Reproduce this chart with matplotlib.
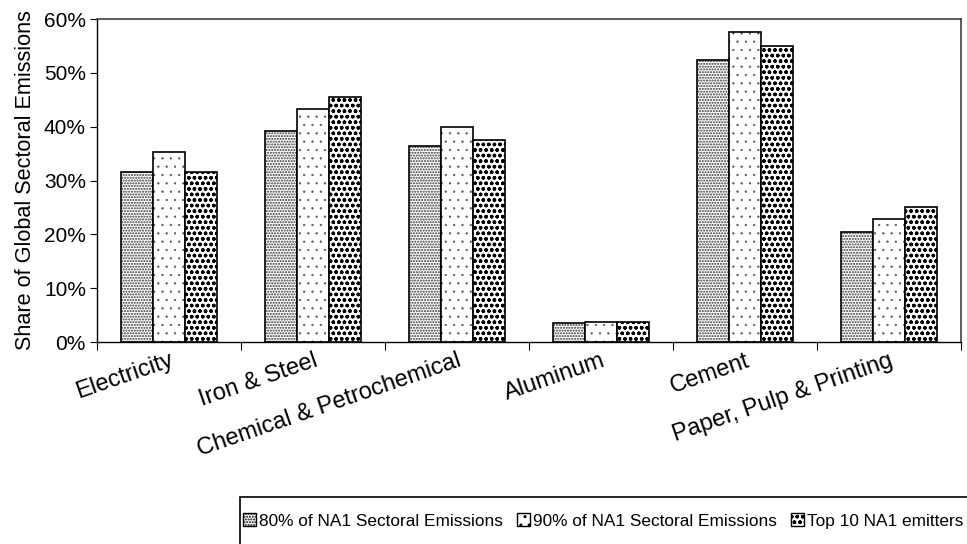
import numpy as np
import matplotlib.pyplot as plt
from matplotlib.patches import Rectangle

plt.rcParams["font.family"] = ["Liberation Sans", "DejaVu Sans"]
plt.rcParams["hatch.linewidth"] = 1.0

sectors = ["Electricity", "Iron & Steel", "Chemical & Petrochemical",
           "Aluminum", "Cement", "Paper, Pulp & Printing"]
series_names = ["80% of NA1 Sectoral Emissions", "90% of NA1 Sectoral Emissions",
                "Top 10 NA1 emitters"]
na1_80 = [31.5, 39.2, 36.5, 3.5, 52.3, 20.5]
na1_90 = [35.3, 43.2, 40.0, 3.8, 57.6, 22.8]
top10 = [31.5, 45.5, 37.6, 3.8, 55.0, 25.0]

fig = plt.figure(figsize=(9.67, 5.44), dpi=100)
ax = fig.add_axes([0.1003, 0.3713, 0.8935, 0.5937])

x = np.arange(len(sectors))
w = 0.224
hatches = ["......", "..", "ooo"]
hatch_cols = ["#333333", "#555555", "black"]
hatch_lws = [1.0, 0.4, 1.0]
for i, vals in enumerate([na1_80, na1_90, top10]):
    pos = x + (i - 1) * w
    with plt.rc_context({"hatch.linewidth": hatch_lws[i]}):
        # hatch layer, then the outline on top
        ax.bar(pos, vals, width=w, facecolor="white", edgecolor=hatch_cols[i],
               hatch=hatches[i], linewidth=0)
        ax.bar([np.nan], [0], facecolor="white", edgecolor="black",
               hatch=hatches[i], linewidth=1.0, label=series_names[i])
    ax.bar(pos, vals, width=w, facecolor="none", edgecolor="black",
           linewidth=1.2)

ax.set_xlim(-0.5, len(sectors) - 0.5)
ax.set_ylim(0, 60)
ax.set_yticks(range(0, 61, 10))
ax.set_yticklabels([f"{v}%" for v in range(0, 61, 10)], fontsize=15)
ax.set_xticks(np.arange(-0.5, len(sectors), 1.0))
ax.set_xticklabels([])
ax.tick_params(axis="x", length=6, direction="out")
ax.tick_params(axis="y", length=5, direction="out", pad=3)
for xi, name in zip(x, sectors):
    ax.text(xi, -1.4, name, rotation=19, ha="right", va="top",
            rotation_mode="anchor", fontsize=17)
ax.set_ylabel("Share of Global Sectoral Emissions", fontsize=15.6, labelpad=6)

for s in ["top", "right"]:
    ax.spines[s].set_color("#404040")
    ax.spines[s].set_linewidth(1.2)
for s in ["left", "bottom"]:
    ax.spines[s].set_linewidth(1.0)

# legend box runs past the right and bottom edges of the picture
fig.add_artist(Rectangle((240 / 967, -0.1), 1.0, 0.1 + 1 - 497 / 544,
                         transform=fig.transFigure, fill=False,
                         edgecolor="black", linewidth=1.2))
leg = fig.legend(loc="center left", bbox_to_anchor=(243 / 967, 1 - 521 / 544),
                 ncol=3, fontsize=12.4, handlelength=0.75, handleheight=0.75,
                 handletextpad=0.2, columnspacing=0.8, borderpad=0,
                 borderaxespad=0, frameon=False)

fig.savefig("out.png", dpi=100)
